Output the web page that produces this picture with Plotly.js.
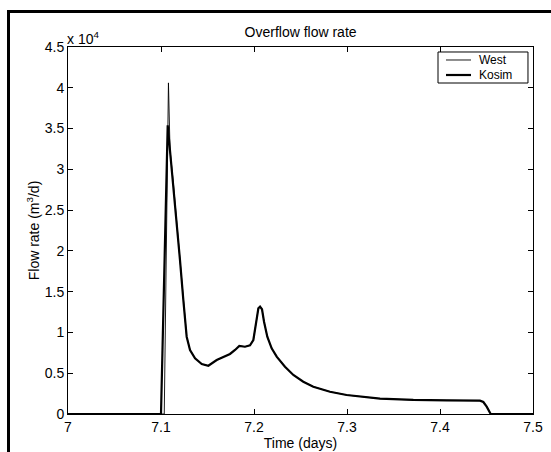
<!DOCTYPE html>
<html>
<head>
<meta charset="utf-8">
<script src="https://cdn.plot.ly/plotly-3.0.1.min.js"></script>
<style>
html, body { margin: 0; padding: 0; background: #fff; overflow: hidden; }
#wrap { position: relative; width: 551px; height: 452px; }
#chart { position: absolute; left: 0; top: 0; width: 551px; height: 452px; }
#frame { position: absolute; left: 7px; top: 10px; width: 600px; height: 500px;
  border-left: 3px solid #000; border-top: 3px solid #000; pointer-events: none; }
</style>
</head>
<body>
<div id="wrap"><div id="chart"></div><div id="frame"></div></div>
<script>
// Time (days) and flow rate (m3/d)
var westTime  = [7.0, 7.1035, 7.108, 7.1097, 7.1133, 7.1168, 7.1204, 7.124, 7.1276, 7.1312, 7.1366, 7.1438, 7.1509, 7.1599, 7.167, 7.1742, 7.1796, 7.1842, 7.1903, 7.1957, 7.1993, 7.2022, 7.2047, 7.2065, 7.2086, 7.2108, 7.2143, 7.219, 7.2244, 7.2333, 7.2423, 7.253, 7.2638, 7.2817, 7.2996, 7.3355, 7.3713, 7.4072, 7.443, 7.4466, 7.4502, 7.4545, 7.5];
var westFlow  = [0, 0, 40600, 32400, 28300, 23800, 18900, 14000, 9480, 7850, 6830, 6130, 5920, 6620, 6950, 7360, 7850, 8340, 8250, 8420, 9070, 11120, 12960, 13250, 12840, 11320, 9480, 8050, 7030, 5800, 4780, 3960, 3350, 2730, 2330, 1880, 1720, 1680, 1630, 1470, 900, 0, 0];
var kosimTime = [7.0, 7.100, 7.1072, 7.1097, 7.1133, 7.1168, 7.1204, 7.124, 7.1276, 7.1312, 7.1366, 7.1438, 7.1509, 7.1599, 7.167, 7.1742, 7.1796, 7.1842, 7.1903, 7.1957, 7.1993, 7.2022, 7.2047, 7.2065, 7.2086, 7.2108, 7.2143, 7.219, 7.2244, 7.2333, 7.2423, 7.253, 7.2638, 7.2817, 7.2996, 7.3355, 7.3713, 7.4072, 7.443, 7.4466, 7.4502, 7.4545, 7.5];
var kosimFlow = [0, 0, 35400, 32400, 28300, 23800, 18900, 14000, 9480, 7850, 6830, 6130, 5920, 6620, 6950, 7360, 7850, 8340, 8250, 8420, 9070, 11120, 12960, 13160, 12840, 11320, 9480, 8050, 7030, 5800, 4780, 3960, 3350, 2730, 2330, 1880, 1720, 1680, 1630, 1470, 900, 0, 0];

var seriesNames = ['West', 'Kosim'];
var xTicks = [7, 7.1, 7.2, 7.3, 7.4, 7.5];
var xTickText = ['7', '7.1', '7.2', '7.3', '7.4', '7.5'];
var yTicks = [0, 5000, 10000, 15000, 20000, 25000, 30000, 35000, 40000, 45000];
var yTickText = ['0', '0.5', '1', '1.5', '2', '2.5', '3', '3.5', '4', '4.5'];

var fam = 'Liberation Sans, Arial, Helvetica, sans-serif';
var font = {family: fam, size: 14, color: '#000'};
var titleFont = {family: fam, size: 14, color: '#000'};
var legFont = {family: fam, size: 12, color: '#000'};
var widths = [0.9, 2.2];

var traces = [
  {x: westTime, y: westFlow, name: seriesNames[0], mode: 'lines', showlegend: false,
   line: {color: '#000', width: widths[0]}},
  {x: kosimTime, y: kosimFlow, name: seriesNames[1], mode: 'lines', showlegend: false,
   line: {color: '#000', width: widths[1]}}
];

// Legend box drawn in paper coordinates (top-right inside plot)
var lx0 = 0.7957, lx1 = 0.9892, ly0 = 0.9019, ly1 = 0.9864;
var rowY = [0.9646, 0.9237];
var shapes = [
  {type: 'rect', xref: 'paper', yref: 'paper', x0: lx0, x1: lx1, y0: ly0, y1: ly1,
   line: {color: '#000', width: 1}, fillcolor: '#fff', layer: 'above'}
];
var annotations = [
  {text: 'x 10<sup>4</sup>', xref: 'paper', yref: 'paper', x: 0.0, y: 1.0,
   xanchor: 'left', yanchor: 'bottom', showarrow: false, font: font, xshift: -3, yshift: -2}
];
for (var i = 0; i < seriesNames.length; i++) {
  shapes.push({type: 'line', xref: 'paper', yref: 'paper', x0: 0.8129, x1: 0.8667,
    y0: rowY[i], y1: rowY[i], line: {color: '#000', width: widths[i]}, layer: 'above'});
  annotations.push({text: seriesNames[i], xref: 'paper', yref: 'paper', x: 0.8817, y: rowY[i],
    xanchor: 'left', yanchor: 'middle', showarrow: false, font: legFont, borderpad: 0});
}

var layout = {
  width: 551, height: 452,
  margin: {l: 68, r: 18, t: 47, b: 38, pad: 0},
  paper_bgcolor: '#fff', plot_bgcolor: '#fff',
  font: font,
  showlegend: false,
  title: {text: 'Overflow flow rate', font: titleFont, x: 0.5455, xanchor: 'center', y: 0.93, yanchor: 'middle'},
  xaxis: {
    range: [7, 7.5], tickvals: xTicks, ticktext: xTickText,
    ticks: 'inside', ticklen: 5, tickcolor: '#000', tickwidth: 1,
    showline: true, linecolor: '#000', linewidth: 1, mirror: 'ticks',
    showgrid: false, zeroline: false, tickfont: font,
    title: {text: 'Time (days)', font: font, standoff: 0},
    automargin: false
  },
  yaxis: {
    range: [0, 45000], tickvals: yTicks, ticktext: yTickText,
    ticks: 'inside', ticklen: 5, tickcolor: '#000', tickwidth: 1,
    showline: true, linecolor: '#000', linewidth: 1, mirror: 'ticks',
    showgrid: false, zeroline: false, tickfont: font,
    title: {text: 'Flow rate (m<sup>3</sup>/d)', font: font, standoff: 1},
    automargin: false
  },
  shapes: shapes,
  annotations: annotations
};

Plotly.newPlot('chart', traces, layout, {displayModeBar: false, staticPlot: true});
</script>
</body>
</html>
